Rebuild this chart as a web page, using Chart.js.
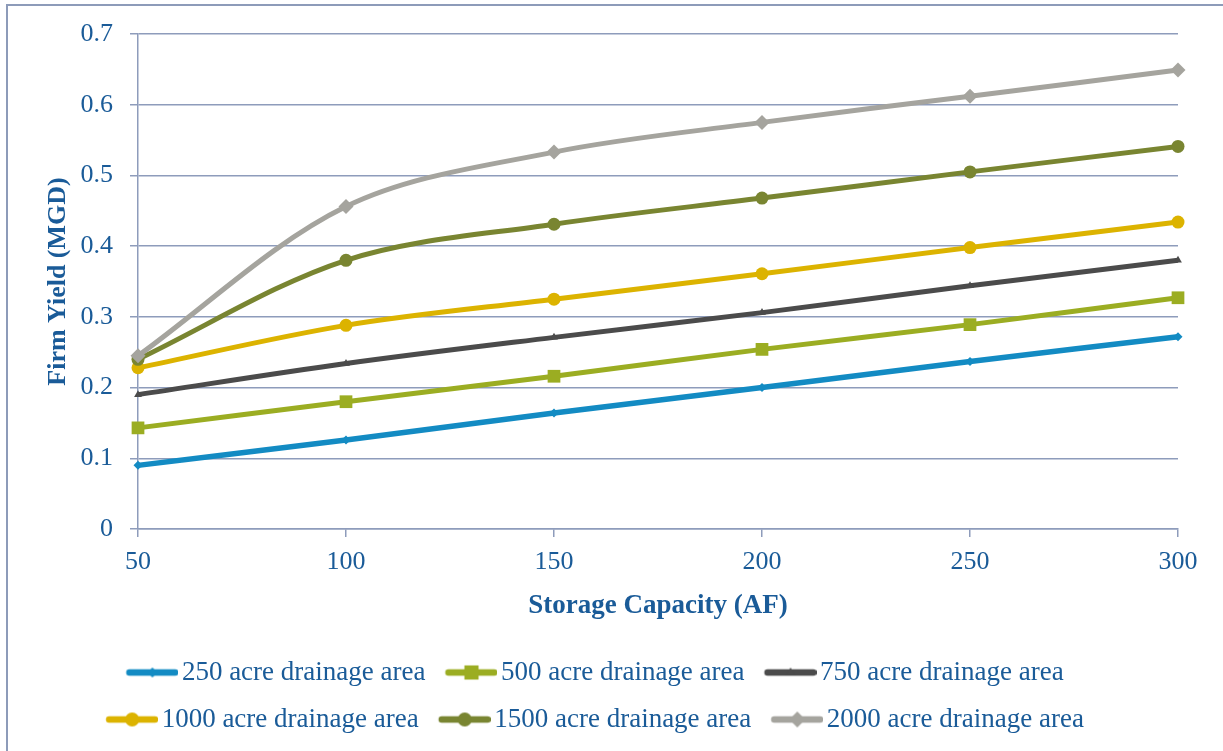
<!DOCTYPE html>
<html lang="en">
<head>
    <meta charset="UTF-8">
    <title>Firm Yield vs Storage Capacity</title>
    <script src="https://cdn.jsdelivr.net/npm/chart.js"></script>
    <style>
        body {
            margin: 0;
            background: #fff;
        }
        .chart-box {
            width: 1223px;
            height: 751px;
        }
    </style>
</head>
<body>
    <div class="chart-box">
        <canvas id="firmYield" width="1223" height="751"></canvas>
    </div>

    <script>
        // Storage capacity (AF) on the x axis
        const capacities = ['50', '100', '150', '200', '250', '300'];

        // Firm yield (MGD) for each drainage area
        const yield250 = [0.090, 0.126, 0.164, 0.200, 0.237, 0.272];
        const yield500 = [0.143, 0.180, 0.216, 0.254, 0.289, 0.327];
        const yield750 = [0.190, 0.234, 0.271, 0.306, 0.344, 0.380];
        const yield1000 = [0.228, 0.288, 0.325, 0.361, 0.398, 0.434];
        const yield1500 = [0.240, 0.380, 0.431, 0.468, 0.505, 0.541];
        const yield2000 = [0.245, 0.456, 0.533, 0.575, 0.612, 0.649];

        const seriesNames = [
            '250 acre drainage area',
            '500 acre drainage area',
            '750 acre drainage area',
            '1000 acre drainage area',
            '1500 acre drainage area',
            '2000 acre drainage area'
        ];

        const textBlue = '#1a5b98';
        const gridColor = '#8e9cbb';
        const serif = "'Liberation Serif', 'Times New Roman', serif";

        // line colour, marker shape, marker radius (plot / legend) for each series
        const styles = [
            { color: '#138bc3', marker: 'rectRot', radius: 4.5, legendRadius: 5, width: 5.5 },
            { color: '#9bad22', marker: 'rect', radius: 9, legendRadius: 10, width: 5 },
            { color: '#4b4b4b', marker: 'triangle', radius: 4.5, legendRadius: 5, width: 5 },
            { color: '#dcb300', marker: 'circle', radius: 6.5, legendRadius: 7, width: 5 },
            { color: '#798531', marker: 'circle', radius: 6.5, legendRadius: 7, width: 5 },
            { color: '#a5a49e', marker: 'rectRot', radius: 7.5, legendRadius: 8, width: 5 }
        ];
        const allValues = [yield250, yield500, yield750, yield1000, yield1500, yield2000];

        // small line+marker icons for the legend
        function makeLegendIcon(st) {
            const c = document.createElement('canvas');
            c.width = 62;
            c.height = 20;
            const g = c.getContext('2d');
            g.strokeStyle = st.color;
            g.fillStyle = st.color;
            g.lineWidth = 6.5;
            g.lineCap = 'round';
            g.beginPath();
            g.moveTo(13, 10);
            g.lineTo(59, 10);
            g.stroke();
            Chart.helpers.drawPoint(g, {
                pointStyle: st.marker,
                radius: st.legendRadius,
                rotation: 0,
                borderWidth: 0
            }, 36, 10);
            return c;
        }

        // outer frame along the top and left of the chart
        const framePlugin = {
            id: 'frame',
            beforeDraw(chart) {
                const ctx = chart.ctx;
                ctx.save();
                ctx.strokeStyle = '#8d9bb9';
                ctx.lineWidth = 2;
                ctx.beginPath();
                ctx.moveTo(7, chart.height);
                ctx.lineTo(7, 5);
                ctx.lineTo(chart.width, 5);
                ctx.stroke();
                ctx.restore();
            }
        };

        const datasets = allValues.map((vals, i) => ({
            label: seriesNames[i],
            data: vals,
            borderColor: styles[i].color,
            backgroundColor: styles[i].color,
            borderWidth: styles[i].width,
            pointStyle: styles[i].marker,
            pointRadius: styles[i].radius,
            pointBorderWidth: 0,
            pointBackgroundColor: styles[i].color,
            tension: 0.33,
            fill: false,
            clip: false,
            order: 5 - i
        }));

        const legendIcons = styles.map(makeLegendIcon);

        const ctx = document.getElementById('firmYield').getContext('2d');
        const chart = new Chart(ctx, {
            type: 'line',
            data: {
                labels: capacities,
                datasets: datasets
            },
            plugins: [framePlugin],
            options: {
                responsive: false,
                animation: false,
                layout: {
                    padding: { left: 12, right: 45, top: 34, bottom: 8 }
                },
                scales: {
                    x: {
                        offset: false,
                        grid: {
                            drawOnChartArea: false,
                            drawTicks: true,
                            tickLength: 8,
                            color: gridColor,
                            lineWidth: 1.5
                        },
                        border: { color: gridColor, width: 1.5 },
                        ticks: {
                            color: textBlue,
                            padding: 10,
                            maxRotation: 0,
                            font: { family: serif, size: 26 }
                        },
                        title: {
                            display: true,
                            text: 'Storage Capacity (AF)',
                            color: textBlue,
                            padding: { top: 0, bottom: 17 },
                            font: { family: serif, size: 27, weight: 'bold' }
                        },
                        afterFit(scale) {
                            scale.height = 110;
                        }
                    },
                    y: {
                        min: 0,
                        max: 0.7,
                        grid: {
                            color: gridColor,
                            lineWidth: 1.5,
                            tickLength: 8
                        },
                        border: { color: gridColor, width: 1.5 },
                        ticks: {
                            stepSize: 0.1,
                            color: textBlue,
                            padding: 17,
                            font: { family: serif, size: 26 },
                            callback: v => v === 0 ? '0' : v.toFixed(1)
                        },
                        title: {
                            display: true,
                            text: 'Firm Yield (MGD)',
                            color: textBlue,
                            padding: { top: 31, bottom: 0 },
                            font: { family: serif, size: 26, weight: 'bold' }
                        },
                        afterFit(scale) {
                            scale.width = 126;
                        }
                    }
                },
                plugins: {
                    legend: {
                        position: 'bottom',
                        labels: {
                            usePointStyle: true,
                            pointStyleWidth: 42,
                            padding: 20,
                            color: textBlue,
                            font: { family: serif, size: 27 },
                            sort: (a, b) => a.datasetIndex - b.datasetIndex,
                            generateLabels(chart) {
                                const items = Chart.defaults.plugins.legend.labels.generateLabels(chart);
                                items.forEach(it => { it.pointStyle = legendIcons[it.datasetIndex]; });
                                return items;
                            }
                        }
                    },
                    tooltip: { enabled: false }
                }
            }
        });
    </script>
</body>
</html>
